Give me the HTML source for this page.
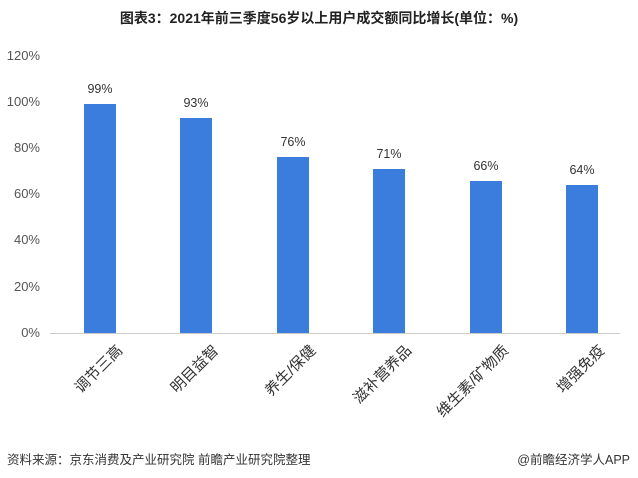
<!DOCTYPE html>
<html><head><meta charset="utf-8"><style>
body{margin:0;width:638px;height:478px;background:#fff;position:relative;overflow:hidden;font-family:"Liberation Sans","Noto Sans CJK SC",sans-serif;color:#333}
.t{position:absolute;top:8px;left:0;width:638px;text-align:center;font-weight:bold;font-size:14px;color:#222}
.y{position:absolute;left:0;width:40px;text-align:right;font-size:13px;color:#555}
.b{position:absolute;width:32px;background:#3b7ddd}
.v{position:absolute;width:60px;text-align:center;font-size:12.5px;color:#333}
.c{position:absolute;font-size:15px;white-space:nowrap;transform-origin:100% 0;transform:rotate(-45deg);color:#333}
.f{position:absolute;top:449px;font-size:12.5px;color:#333}
</style></head><body>
<div class="t">图表3：2021年前三季度56岁以上用户成交额同比增长(单位：%)</div>
<div class="y" style="top:48px">120%</div>
<div class="y" style="top:94px">100%</div>
<div class="y" style="top:140px">80%</div>
<div class="y" style="top:186px">60%</div>
<div class="y" style="top:232px">40%</div>
<div class="y" style="top:279px">20%</div>
<div class="y" style="top:325px">0%</div>
<div style="position:absolute;left:50px;top:333px;width:570px;height:1px;background:#ccc"></div>

<div class="b" style="left:84px;top:104px;height:229px"></div>
<div class="b" style="left:180px;top:118px;height:215px"></div>
<div class="b" style="left:277px;top:157px;height:176px"></div>
<div class="b" style="left:373px;top:169px;height:164px"></div>
<div class="b" style="left:470px;top:181px;height:152px"></div>
<div class="b" style="left:566px;top:185px;height:148px"></div>

<div class="v" style="left:70px;top:82px">99%</div>
<div class="v" style="left:166px;top:96px">93%</div>
<div class="v" style="left:263px;top:135px">76%</div>
<div class="v" style="left:359px;top:147px">71%</div>
<div class="v" style="left:456px;top:159px">66%</div>
<div class="v" style="left:552px;top:163px">64%</div>

<div class="c" style="right:526px;top:340px">调节三高</div>
<div class="c" style="right:430px;top:340px">明目益智</div>
<div class="c" style="right:333px;top:340px">养生/保健</div>
<div class="c" style="right:237px;top:340px">滋补营养品</div>
<div class="c" style="right:140px;top:340px">维生素/矿物质</div>
<div class="c" style="right:44px;top:340px">增强免疫</div>

<div class="f" style="left:7px">资料来源：京东消费及产业研究院 前瞻产业研究院整理</div>
<div class="f" style="right:8px">@前瞻经济学人APP</div>
</body></html>
